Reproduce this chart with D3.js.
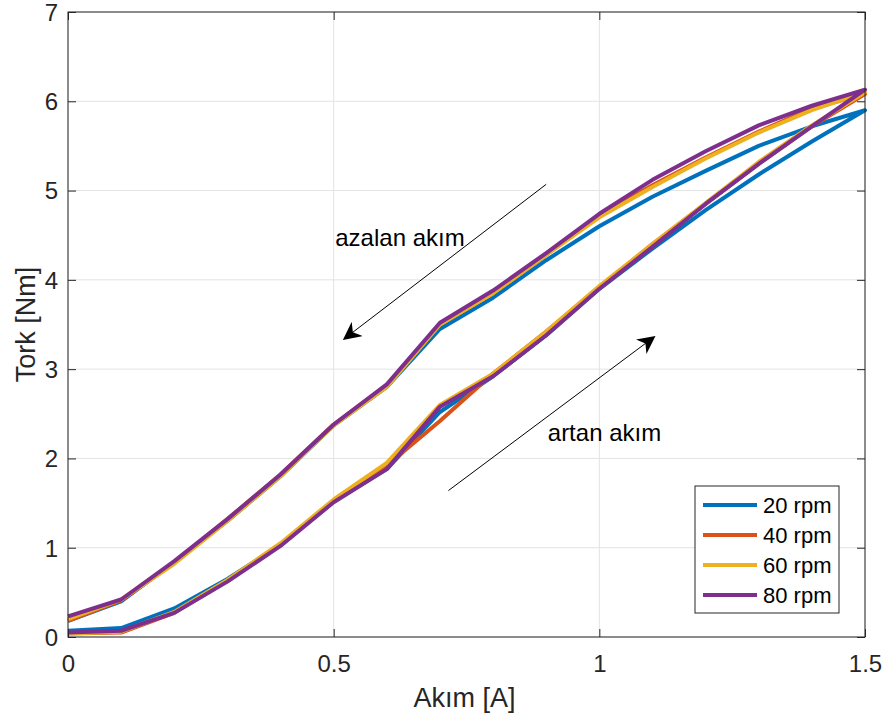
<!DOCTYPE html>
<html><head><meta charset="utf-8">
<script src="https://cdn.jsdelivr.net/npm/d3@7"></script>
<style>body{margin:0;background:#fff;}svg{display:block;font-family:"Liberation Sans",Arial,sans-serif;}</style>
</head><body>
<svg id="c" width="886" height="718"></svg>
<script>
const currentSteps = [0,0.1,0.2,0.3,0.4,0.5,0.6,0.7,0.8,0.9,1.0,1.1,1.2,1.3,1.4,1.5];
const seriesNames = ["20 rpm","40 rpm","60 rpm","80 rpm"];
const seriesColors = ["#0072BD","#D95319","#EDB120","#7E2F8E"];
// increasing current (artan akım), indexed by currentSteps
const up20 = [0.07,0.10,0.32,0.65,1.03,1.52,1.88,2.52,2.92,3.38,3.90,4.35,4.78,5.18,5.55,5.90];
const up40 = [0.04,0.05,0.27,0.63,1.03,1.52,1.92,2.42,2.95,3.42,3.92,4.40,4.85,5.30,5.72,6.08];
const up60 = [0.04,0.06,0.28,0.64,1.05,1.54,1.95,2.60,2.95,3.42,3.93,4.40,4.86,5.32,5.73,6.10];
const up80 = [0.05,0.07,0.27,0.62,1.02,1.51,1.88,2.58,2.92,3.38,3.90,4.37,4.85,5.30,5.72,6.13];
// decreasing current (azalan akım), indexed by currentSteps
const down20 = [0.18,0.40,0.84,1.30,1.80,2.37,2.80,3.45,3.80,4.22,4.60,4.93,5.22,5.50,5.72,5.90];
const down40 = [0.18,0.41,0.83,1.32,1.82,2.38,2.82,3.50,3.85,4.28,4.72,5.06,5.37,5.66,5.92,6.08];
const down60 = [0.20,0.42,0.82,1.30,1.80,2.37,2.80,3.50,3.85,4.28,4.70,5.04,5.36,5.65,5.90,6.10];
const down80 = [0.23,0.42,0.85,1.32,1.82,2.38,2.83,3.52,3.88,4.30,4.74,5.12,5.44,5.73,5.95,6.13];
const xTicks = [0,0.5,1,1.5];
const yTicks = [0,1,2,3,4,5,6,7];
const annotations = [
  {text:"azalan akım", tx:0.503, ty:4.38, from:[0.9,5.07], to:[0.52,3.34]},
  {text:"artan akım", tx:0.903, ty:2.2, from:[0.716,1.64], to:[1.103,3.36]}
];

const ups = [up20,up40,up60,up80];
const downs = [down20,down40,down60,down80];

const svg = d3.select("#c");
const L=68, R=865, T=12, B=637;
const x = d3.scaleLinear().domain([0,1.5]).range([L,R]);
const y = d3.scaleLinear().domain([0,7]).range([B,T]);

svg.append("defs").append("marker").attr("id","ah").attr("viewBox","0 0 10 10")
  .attr("refX",9).attr("refY",5).attr("markerWidth",18).attr("markerHeight",18)
  .attr("markerUnits","userSpaceOnUse").attr("orient","auto")
  .append("path").attr("d","M0,0 L10,5 L0,10 L3,5 Z").attr("fill","#000");

// grid
const g = svg.append("g");
g.selectAll(".gx").data(xTicks).join("line").attr("x1",d=>x(d)).attr("x2",d=>x(d))
  .attr("y1",T).attr("y2",B).attr("stroke","#e3e3e3").attr("stroke-width",1);
g.selectAll(".gy").data(yTicks).join("line").attr("y1",d=>y(d)).attr("y2",d=>y(d))
  .attr("x1",L).attr("x2",R).attr("stroke","#e3e3e3").attr("stroke-width",1);

// lines
const line = d3.line().x(d=>x(d[0])).y(d=>y(d[1]));
seriesNames.forEach((n,i)=>{
  const pts = currentSteps.map((c,j)=>[c,ups[i][j]]);
  const back = currentSteps.map((c,j)=>[c,downs[i][j]]).reverse().slice(1);
  svg.append("path").attr("d",line(pts.concat(back))).attr("fill","none")
    .attr("stroke",seriesColors[i]).attr("stroke-width",4).attr("stroke-linejoin","round");
});

// axes box with inward ticks
const ax = svg.append("g").attr("stroke","#262626").attr("fill","none");
ax.append("rect").attr("x",L).attr("y",T).attr("width",R-L).attr("height",B-T).attr("stroke-width",1);
const fmt = d3.format("~g");
const xa = svg.append("g").attr("transform",`translate(0,${B})`).call(d3.axisBottom(x).tickValues(xTicks).tickSize(-8).tickFormat(fmt));
const xt = svg.append("g").attr("transform",`translate(0,${T})`).call(d3.axisTop(x).tickValues(xTicks).tickSize(-8).tickFormat(""));
const ya = svg.append("g").attr("transform",`translate(${L},0)`).call(d3.axisLeft(y).tickValues(yTicks).tickSize(-8).tickFormat(fmt));
const yr = svg.append("g").attr("transform",`translate(${R},0)`).call(d3.axisRight(y).tickValues(yTicks).tickSize(-8).tickFormat(""));
[xa,xt,ya,yr].forEach(a=>{a.select(".domain").remove();a.selectAll("line").attr("stroke","#262626");});
xa.selectAll("text").attr("font-size",24).attr("fill","#262626").attr("dy","0").attr("y",35);
ya.selectAll("text").attr("font-size",24).attr("fill","#262626").attr("x",-10).attr("dy","0.35em");

svg.append("text").attr("x",(L+R)/2-2).attr("y",707).attr("text-anchor","middle")
  .attr("font-size",27).attr("fill","#262626").text("Akım [A]");
svg.append("text").attr("transform",`translate(35,${(T+B)/2}) rotate(-90)`).attr("text-anchor","middle")
  .attr("font-size",27).attr("fill","#262626").text("Tork [Nm]");

// annotations
annotations.forEach(a=>{
  svg.append("line").attr("x1",x(a.from[0])).attr("y1",y(a.from[1])).attr("x2",x(a.to[0])).attr("y2",y(a.to[1]))
    .attr("stroke","#000").attr("stroke-width",1).attr("marker-end","url(#ah)");
  svg.append("text").attr("x",x(a.tx)).attr("y",y(a.ty)).attr("font-size",24).attr("fill","#000").text(a.text);
});

// legend
const lg = svg.append("g");
lg.append("rect").attr("x",695).attr("y",486).attr("width",144).attr("height",127)
  .attr("fill","#fff").attr("stroke","#262626").attr("stroke-width",1);
seriesNames.forEach((n,i)=>{
  const yy = 505 + i*30;
  lg.append("line").attr("x1",703).attr("x2",757).attr("y1",yy).attr("y2",yy)
    .attr("stroke",seriesColors[i]).attr("stroke-width",4);
  lg.append("text").attr("x",763).attr("y",yy).attr("dy","0.35em").attr("font-size",22).attr("fill","#000").text(n);
});
</script>
</body></html>
